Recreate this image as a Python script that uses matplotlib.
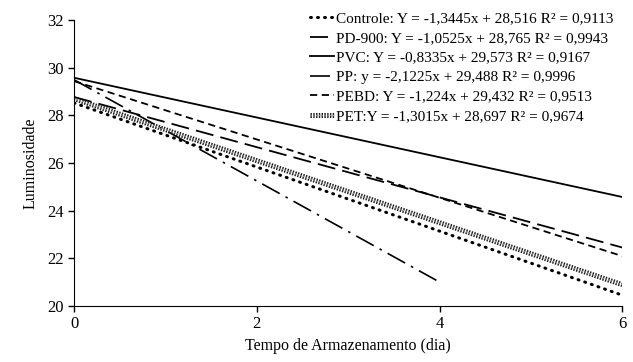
import matplotlib
matplotlib.use("Agg")
import matplotlib.pyplot as plt
import matplotlib.patheffects as pe

plt.rcParams["font.family"] = ["Liberation Serif", "DejaVu Serif"]

# endpoints of each fitted line (dia, luminosidade)
x_full = [0, 6]
x_pp = [0, 4]
controle = [28.516, 20.45]
pd900 = [28.765, 22.45]
pvc = [29.573, 24.57]
pp = [29.488, 21.0]
pebd = [29.432, 22.09]
pet = [28.697, 20.89]

labels = [
    "Controle: Y = -1,3445x + 28,516 R² = 0,9113",
    "PD-900: Y = -1,0525x + 28,765 R² = 0,9943",
    "PVC: Y = -0,8335x + 29,573 R² = 0,9167",
    "PP: y = -2,1225x + 29,488 R² = 0,9996",
    "PEBD: Y = -1,224x + 29,432 R² = 0,9513",
    "PET:Y = -1,3015x + 28,697 R² = 0,9674",
]

fig = plt.figure(figsize=(6.33, 3.62), dpi=100)
ax = fig.add_axes([0.117, 0.155, 0.866, 0.79])

ax.plot(x_full, controle, color="black", lw=2.2, ls=(0, (0.3, 2.0)),
        dash_capstyle="round", label=labels[0])
ax.plot(x_full, pd900, color="black", lw=1.3, ls=(0, (10, 4)), label=labels[1])
ax.plot(x_full, pvc, color="black", lw=1.3, ls="-", label=labels[2])
ax.plot(x_pp, pp, color="black", lw=1.2, ls=(0, (12, 4, 1.5, 4)), label=labels[3])
ax.plot(x_full, pebd, color="black", lw=1.3, ls=(0, (4, 2.5)), label=labels[4])
ax.plot(x_full, pet, color="#8a8a8a", lw=1.0, ls=(0, (1, 1)), label=labels[5],
        path_effects=[pe.Stroke(linewidth=3.6, foreground="#1a1a1a"), pe.Normal()])

ax.set_xlim(0, 6)
ax.set_ylim(20, 32)
ax.set_xticks([0, 2, 4, 6])
ax.set_yticks([20, 22, 24, 26, 28, 30, 32])
ax.spines["top"].set_visible(False)
ax.spines["right"].set_visible(False)
ax.tick_params(direction="out", length=4, labelsize=12, width=1)
ax.set_xlabel("Tempo de Armazenamento (dia)", fontsize=11.5, labelpad=4)
ax.set_ylabel("Luminosidade", fontsize=11.5, labelpad=6)

ax.legend(loc="upper right", bbox_to_anchor=(1.0, 1.06), frameon=False, fontsize=11,
          handlelength=1.6, handletextpad=0.1, labelspacing=0.38, borderaxespad=0.2)

fig.savefig("out.png", dpi=100)
